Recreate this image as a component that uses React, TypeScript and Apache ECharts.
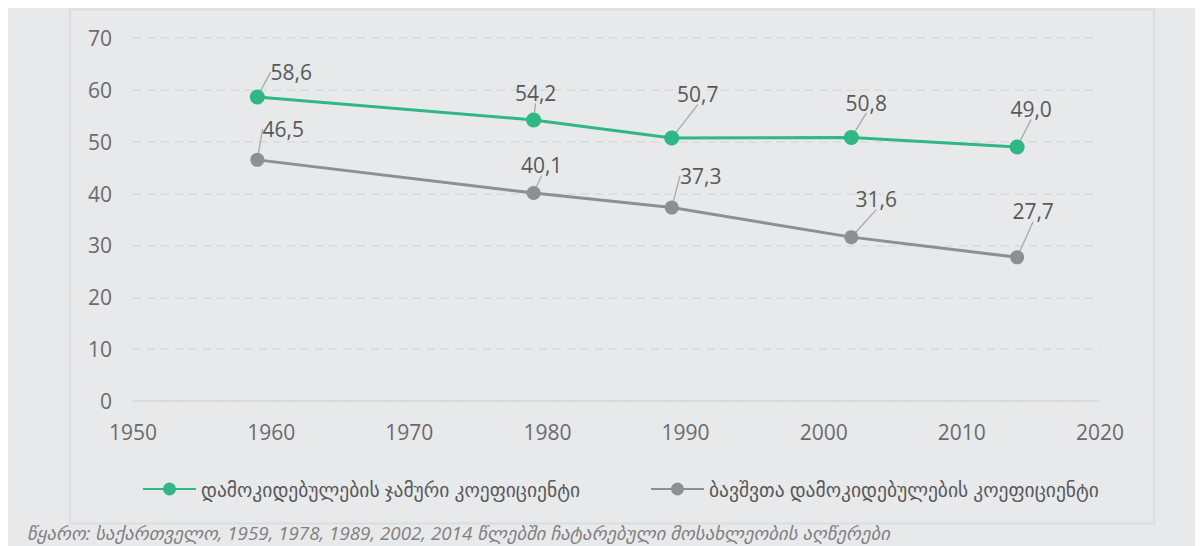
import React, { useEffect, useRef } from "react";
import * as echarts from "echarts";

const years = [1959, 1979, 1989, 2002, 2014];
const totalRatio = [58.6, 54.2, 50.7, 50.8, 49.0];
const childRatio = [46.5, 40.1, 37.3, 31.6, 27.7];
const seriesNames = [
  "დამოკიდებულების ჯამური კოეფიციენტი",
  "ბავშვთა დამოკიდებულების კოეფიციენტი",
];
const sourceText =
  "წყარო: საქართველო, 1959, 1978, 1989, 2002, 2014 წლებში ჩატარებული მოსახლეობის აღწერები";

// label offsets (label centre relative to point centre)
const totalOffsets = [
  [34, -25],
  [2, -27],
  [26, -44],
  [15, -35],
  [14, -38],
];
const childOffsets = [
  [26, -31],
  [8, -28],
  [29, -32],
  [25, -38],
  [16, -46],
];

const FONT = "'Open Sans', 'DejaVu Sans', sans-serif";
const fmt = (v: number) => v.toFixed(1).replace(".", ",");

export default function App() {
  const ref = useRef<HTMLDivElement>(null);
  useEffect(() => {
    if (!ref.current) return;
    const chart = echarts.init(ref.current, undefined, { renderer: "svg" });
    const mkLayout = (offs: number[][]) => (p: any) => {
      const cx = p.rect.x + p.rect.width / 2;
      const cy = p.rect.y + p.rect.height / 2;
      const o = offs[p.dataIndex];
      return { x: cx + o[0], y: cy + o[1], align: "center", verticalAlign: "middle" };
    };
    const labelCfg = {
      show: true,
      position: "top",
      formatter: (p: any) => fmt(p.value[1]),
      color: "#595959",
      fontSize: 21,
      fontFamily: FONT,
    };
    const labelLine = { show: true, lineStyle: { color: "#a8a8a8", width: 1.3 } };
    chart.setOption({
      animation: false,
      backgroundColor: "#e8e9eb",
      textStyle: { fontFamily: FONT },
      graphic: [
        {
          type: "rect",
          shape: { x: 62, y: 1.5, width: 1084, height: 514 },
          style: { fill: "none", stroke: "#dcdddf", lineWidth: 2 },
          silent: true,
        },
        {
          type: "text",
          x: 19,
          y: 525,
          style: {
            text: sourceText,
            fill: "#808080",
            fontSize: 18.8,
            fontStyle: "italic",
            fontFamily: FONT,
            verticalAlign: "middle",
          },
        },
      ],
      grid: { left: 125, right: 103, top: 30, bottom: 145 },
      legend: {
        top: 466,
        left: 129,
        itemWidth: 53,
        itemHeight: 16,
        itemGap: 70,
        textStyle: { color: "#595959", fontSize: 19.5, fontFamily: FONT },
        data: seriesNames,
      },
      xAxis: {
        type: "value",
        min: 1950,
        max: 2020,
        interval: 10,
        axisLine: { show: true, lineStyle: { color: "#d9d9d9", width: 1.5 } },
        axisTick: { show: false },
        splitLine: { show: false },
        axisLabel: {
          color: "#6b6b6b",
          fontSize: 21,
          margin: 20,
          fontFamily: FONT,
          formatter: (v: number) => String(v),
        },
      },
      yAxis: {
        type: "value",
        min: 0,
        max: 70,
        interval: 10,
        axisLine: { show: false },
        axisTick: { show: false },
        splitLine: { lineStyle: { color: "#d9d9d9", type: [8, 6], width: 1.5 } },
        axisLabel: { color: "#6b6b6b", fontSize: 21, margin: 21, fontFamily: FONT },
      },
      series: [
        {
          name: seriesNames[0],
          type: "line",
          data: years.map((y, i) => [y, totalRatio[i]]),
          symbol: "circle",
          symbolSize: 15,
          itemStyle: { color: "#2fb883" },
          lineStyle: { color: "#2fb883", width: 3 },
          label: labelCfg,
          labelLine,
          labelLayout: mkLayout(totalOffsets),
        },
        {
          name: seriesNames[1],
          type: "line",
          data: years.map((y, i) => [y, childRatio[i]]),
          symbol: "circle",
          symbolSize: 14,
          itemStyle: { color: "#8e8f91" },
          lineStyle: { color: "#8e8f91", width: 3 },
          label: labelCfg,
          labelLine,
          labelLayout: mkLayout(childOffsets),
        },
      ],
    });
    return () => chart.dispose();
  }, []);
  return <div ref={ref} style={{ width: 1195, height: 538 }} />;
}
